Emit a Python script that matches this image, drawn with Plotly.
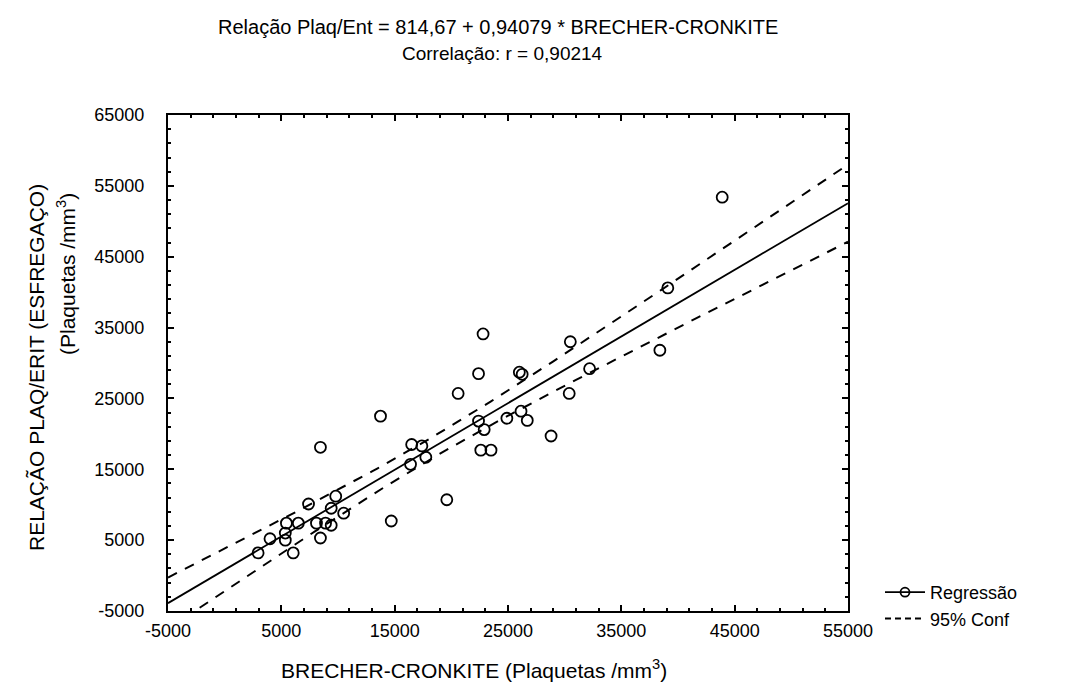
import numpy as np
import plotly.graph_objects as go

# ---- data ----
brecher = [43900, 39100, 38400, 30500, 32200, 26000, 26250, 30400,
           22800, 22400, 20600, 22400, 22900, 24900, 26150, 26700,
           28800, 22600, 23500, 16500, 17400, 17750, 16400, 19600,
           13750, 14700, 8450, 7400, 9800, 9400, 10500, 6500,
           5450, 8100, 8900, 9400, 5350, 5350, 4000, 8450,
           6050, 2950]
esfregaco = [53400, 40600, 31800, 33000, 29200, 28700, 28400, 25700,
             34100, 28500, 25700, 21800, 20600, 22200, 23200, 21900,
             19700, 17700, 17700, 18500, 18300, 16700, 15700, 10700,
             22500, 7700, 18100, 10100, 11200, 9500, 8800, 7400,
             7400, 7400, 7400, 7100, 6000, 5000, 5200, 5300,
             3200, 3200]
intercept = 814.67
slope = 0.94079
corr_text = "0,90214"
x_ticks = [-5000, 5000, 15000, 25000, 35000, 45000, 55000]
y_ticks = [-5000, 5000, 15000, 25000, 35000, 45000, 55000, 65000]

FONT = "Liberation Sans, Arial, sans-serif"

x = np.array(brecher, dtype=float)
y = np.array(esfregaco, dtype=float)
n = len(x)
resid = y - (intercept + slope * x)
s = np.sqrt(np.sum(resid ** 2) / (n - 2))
sxx = np.sum((x - x.mean()) ** 2)
t_crit = 2.021

x_line = np.linspace(x_ticks[0], x_ticks[-1], 121)
y_fit = intercept + slope * x_line
half = t_crit * s * np.sqrt(1.0 / n + (x_line - x.mean()) ** 2 / sxx)

fig = go.Figure()
fig.add_trace(go.Scatter(x=x_line, y=y_fit + half, mode="lines",
                         line=dict(color="black", width=2, dash="10px,9px"),
                         showlegend=False, hoverinfo="skip"))
fig.add_trace(go.Scatter(x=x_line, y=y_fit - half, mode="lines",
                         line=dict(color="black", width=2, dash="10px,9px"),
                         showlegend=False, hoverinfo="skip"))
fig.add_trace(go.Scatter(x=x_line, y=y_fit, mode="lines",
                         line=dict(color="black", width=1.8),
                         showlegend=False))
fig.add_trace(go.Scatter(x=brecher, y=esfregaco, mode="markers",
                         marker=dict(symbol="circle-open", size=11,
                                     color="black", line=dict(width=1.8)),
                         showlegend=False))
# legend entries
fig.add_trace(go.Scatter(x=[None], y=[None], mode="lines+markers", name="Regressão",
                         line=dict(color="black", width=1.8),
                         marker=dict(symbol="circle-open", size=9, color="black",
                                     line=dict(width=1.8))))
fig.add_trace(go.Scatter(x=[None], y=[None], mode="lines", name="95% Conf",
                         line=dict(color="black", width=2, dash="6px,4px")))

axis_common = dict(showline=True, linecolor="black", linewidth=2, mirror="ticks",
                   ticks="inside", ticklen=6, tickwidth=2, tickcolor="black",
                   showgrid=False, zeroline=False,
                   tickfont=dict(family=FONT, size=18, color="black"),
                   minor=dict(ticks="inside", ticklen=3, tickwidth=1.5,
                              tickcolor="black", dtick=2000, tick0=-5000,
                              showgrid=False))

fig.update_xaxes(range=[x_ticks[0], x_ticks[-1]], tickvals=x_ticks,
                 ticktext=[str(v) for v in x_ticks], ticklabelstandoff=2,
                 **axis_common)
fig.update_yaxes(range=[y_ticks[0], y_ticks[-1]], tickvals=y_ticks,
                 ticktext=[str(v) for v in y_ticks], ticklabelstandoff=18,
                 **axis_common)

L, R, T, B = 160, 238, 107, 82
W, H = 1078, 685
pw, ph = W - L - R, H - T - B


def px(xp):
    return (xp - L) / pw


def py(yp):
    return (H - B - yp) / ph


annotations = [
    dict(text="Relação Plaq/Ent = 814,67 + 0,94079 * BRECHER-CRONKITE",
         x=px(490), y=py(19), font=dict(size=20)),
    dict(text="Correlação: r = " + corr_text, x=px(494), y=py(45), font=dict(size=19)),
    dict(text="BRECHER-CRONKITE (Plaquetas /mm<sup>3</sup>)",
         x=px(466), y=py(661), font=dict(size=21)),
    dict(text="RELAÇÃO PLAQ/ERIT (ESFREGAÇO)", x=px(28), y=py(360),
         textangle=-90, font=dict(size=21)),
    dict(text="(Plaquetas /mm<sup>3</sup>)", x=px(58), y=py(266),
         textangle=-90, font=dict(size=21)),
]
for a in annotations:
    a.update(xref="paper", yref="paper", showarrow=False,
             xanchor="center", yanchor="middle")
    a["font"].update(family=FONT, color="black")

fig.update_layout(
    width=W, height=H,
    margin=dict(l=L, r=R, t=T, b=B, autoexpand=False),
    paper_bgcolor="white", plot_bgcolor="white",
    annotations=annotations,
    showlegend=True,
    legend=dict(x=px(872), y=py(566), xanchor="left", yanchor="top",
                font=dict(family=FONT, size=18, color="black"),
                bgcolor="rgba(0,0,0,0)", itemwidth=40, tracegroupgap=0),
)

fig.write_html("out.html")
